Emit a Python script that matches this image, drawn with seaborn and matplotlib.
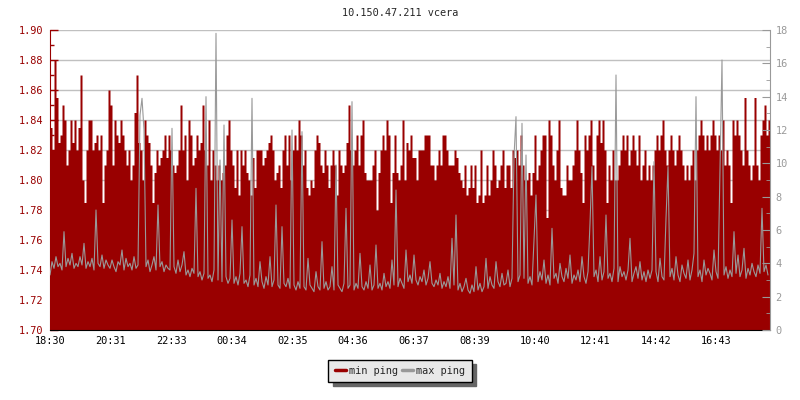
import pandas as pd
import matplotlib.pyplot as plt
from matplotlib.lines import Line2D
from matplotlib.ticker import MultipleLocator
import seaborn as sns

# chart data, one sample every 4 minutes over 24 hours
title = '10.150.47.211 vcera'
start = '2024-05-01 18:30'
step = '4min'
tick_labels = ['18:30', '20:31', '22:33', '00:34', '02:35', '04:36',
               '06:37', '08:39', '10:40', '12:41', '14:42', '16:43']

min_ping = [
    1.835, 1.82, 1.88, 1.855, 1.825, 1.83, 1.85, 1.84, 1.81, 1.82, 1.84, 1.825, 1.84, 1.82, 1.835,
    1.87, 1.80, 1.785, 1.82, 1.84, 1.84, 1.82, 1.825, 1.83, 1.82, 1.83, 1.785, 1.81, 1.82, 1.86,
    1.85, 1.81, 1.84, 1.83, 1.825, 1.84, 1.83, 1.82, 1.81, 1.82, 1.80, 1.81, 1.845, 1.87, 1.825,
    1.82, 1.80, 1.84, 1.83, 1.825, 1.81, 1.785, 1.805, 1.82, 1.81, 1.815, 1.82, 1.83, 1.815, 1.83,
    1.82, 1.81, 1.805, 1.81, 1.82, 1.85, 1.82, 1.83, 1.80, 1.84, 1.83, 1.81, 1.815, 1.83, 1.82,
    1.825, 1.85, 1.82, 1.81, 1.84, 1.80, 1.82, 1.81, 1.80, 1.81, 1.80, 1.805, 1.81, 1.83, 1.84,
    1.82, 1.81, 1.795, 1.82, 1.79, 1.82, 1.81, 1.82, 1.805, 1.80, 1.79, 1.815, 1.795, 1.82, 1.82,
    1.82, 1.81, 1.815, 1.82, 1.825, 1.83, 1.82, 1.80, 1.805, 1.81, 1.795, 1.82, 1.83, 1.81, 1.83,
    1.80, 1.82, 1.83, 1.82, 1.84, 1.83, 1.81, 1.82, 1.795, 1.79, 1.80, 1.795, 1.82, 1.83, 1.825,
    1.81, 1.805, 1.82, 1.81, 1.795, 1.81, 1.82, 1.81, 1.79, 1.82, 1.81, 1.805, 1.81, 1.825, 1.85,
    1.82, 1.81, 1.82, 1.83, 1.81, 1.83, 1.84, 1.805, 1.80, 1.80, 1.80, 1.81, 1.82, 1.78, 1.805,
    1.82, 1.83, 1.82, 1.84, 1.83, 1.785, 1.805, 1.83, 1.805, 1.80, 1.81, 1.84, 1.80, 1.825, 1.82,
    1.83, 1.815, 1.815, 1.80, 1.82, 1.82, 1.82, 1.83, 1.83, 1.83, 1.81, 1.81, 1.80, 1.81, 1.82,
    1.81, 1.83, 1.83, 1.82, 1.81, 1.81, 1.81, 1.82, 1.815, 1.805, 1.80, 1.795, 1.81, 1.79, 1.795,
    1.81, 1.795, 1.81, 1.785, 1.79, 1.82, 1.785, 1.79, 1.81, 1.79, 1.80, 1.82, 1.81, 1.795, 1.80,
    1.81, 1.82, 1.795, 1.81, 1.81, 1.795, 1.82, 1.815, 1.82, 1.81, 1.83, 1.81, 1.80, 1.80, 1.805,
    1.79, 1.805, 1.83, 1.80, 1.81, 1.82, 1.83, 1.83, 1.775, 1.84, 1.83, 1.81, 1.80, 1.82, 1.84,
    1.795, 1.79, 1.79, 1.81, 1.80, 1.80, 1.81, 1.82, 1.84, 1.82, 1.805, 1.785, 1.83, 1.82, 1.83,
    1.84, 1.81, 1.80, 1.83, 1.84, 1.825, 1.84, 1.82, 1.785, 1.81, 1.80, 1.82, 1.80, 1.80, 1.81,
    1.82, 1.83, 1.82, 1.83, 1.81, 1.82, 1.83, 1.82, 1.81, 1.83, 1.80, 1.81, 1.82, 1.80, 1.81,
    1.80, 1.81, 1.82, 1.83, 1.82, 1.83, 1.84, 1.82, 1.81, 1.82, 1.83, 1.82, 1.81, 1.82, 1.83,
    1.82, 1.81, 1.80, 1.81, 1.80, 1.81, 1.82, 1.80, 1.82, 1.83, 1.84, 1.83, 1.82, 1.83, 1.82,
    1.83, 1.84, 1.83, 1.82, 1.83, 1.82, 1.84, 1.81, 1.82, 1.81, 1.785, 1.84, 1.83, 1.84, 1.83,
    1.82, 1.81, 1.855, 1.82, 1.81, 1.80, 1.81, 1.855, 1.81, 1.80, 1.83, 1.84, 1.85, 1.83, 1.84,
]

max_ping = [
    3.3, 4.1, 3.7, 4.4, 3.8, 4.0, 3.6, 5.9, 3.8, 4.3, 3.9, 4.6, 3.7, 4.0, 3.8,
    4.4, 3.9, 5.2, 3.7, 4.1, 3.8, 4.3, 3.6, 7.2, 4.0, 3.8, 4.5, 3.7, 4.2, 3.9,
    3.7, 4.2, 3.8, 3.5, 4.1, 3.9, 4.8, 3.6, 4.3, 3.8, 4.0, 3.6, 4.4, 3.7, 3.9,
    12.9, 13.9, 12.0, 3.8, 4.2, 3.5, 3.9, 4.4, 3.6, 7.5, 3.8, 4.1, 3.5, 3.9, 3.7,
    3.6, 12.1, 3.8, 3.4, 4.2, 3.5, 3.9, 4.7, 3.3, 3.6, 3.2, 3.7, 3.4, 8.5, 3.2,
    3.5, 3.0, 3.4, 14.0, 3.1, 3.3, 2.9, 3.6, 17.8, 3.0, 10.2, 2.9, 12.3, 3.2, 2.8,
    3.1, 6.6, 2.8, 3.2, 2.7, 3.4, 6.2, 2.8, 3.0, 2.6, 3.3, 13.9, 2.7, 3.1, 2.6,
    4.1, 2.9, 2.5, 3.2, 2.7, 4.4, 2.6, 3.0, 7.5, 2.7, 2.5, 6.2, 2.8, 2.6, 3.1,
    2.5, 12.0, 2.7, 2.4, 2.9, 2.5, 11.9, 2.6, 2.4, 4.3, 2.7, 2.5, 2.3, 3.5, 2.6,
    2.4, 5.3, 2.5, 2.9, 2.4, 2.6, 3.8, 2.4, 9.9, 2.7, 2.5, 2.3, 2.8, 7.3, 2.5,
    2.7, 13.7, 2.4, 2.8, 2.5, 4.6, 2.6, 2.4, 2.9, 2.5, 3.9, 2.4, 2.7, 5.1, 2.5,
    2.8, 2.4, 3.4, 2.6, 2.9, 2.5, 4.2, 2.7, 8.4, 2.6, 3.1, 2.8, 2.5, 4.8, 2.9,
    3.3, 2.8, 4.5, 3.0, 2.7, 3.2, 2.9, 3.6, 2.7, 3.1, 4.1, 2.8, 2.6, 3.0, 2.7,
    3.4, 2.5, 2.9, 2.6, 3.2, 2.5, 5.5, 2.7, 6.9, 2.4, 2.8, 2.3, 2.6, 3.1, 2.4,
    2.2, 2.7, 2.3, 3.8, 2.4, 2.8, 2.3, 2.6, 4.3, 2.5, 3.2, 2.7, 2.5, 4.1, 2.9,
    2.6, 3.4, 2.7, 2.8, 3.6, 2.6, 3.1, 10.4, 12.8, 2.9, 3.3, 12.4, 3.1, 10.5, 2.8,
    3.2, 2.7, 5.4, 8.1, 2.9, 3.5, 3.0, 4.2, 2.8, 3.3, 2.7, 6.1, 3.1, 3.4, 2.8,
    4.0, 3.2, 2.9, 3.7, 3.1, 4.5, 2.8, 3.3, 3.0, 3.6, 2.9, 4.4, 3.2, 2.8, 3.5,
    6.4, 9.8, 3.2, 3.6, 2.9, 4.4, 3.0, 3.5, 6.9, 3.1, 3.4, 2.9, 3.7, 15.3, 2.9,
    3.8, 3.2, 3.5, 3.0, 3.6, 5.5, 2.9, 3.4, 3.8, 3.1, 4.1, 3.0, 3.5, 2.9, 3.6,
    3.1, 3.6, 10.1, 3.5, 2.9, 4.3, 3.2, 3.0, 6.7, 9.8, 3.2, 3.7, 3.0, 4.4, 3.3,
    2.9, 3.9, 3.4, 3.1, 4.2, 3.0, 3.6, 4.6, 14.0, 3.2, 3.6, 2.9, 4.2, 3.3, 3.7,
    3.4, 3.0, 4.8, 3.5, 3.1, 9.5, 16.2, 3.3, 3.8, 3.1, 3.6, 3.2, 5.9, 3.4, 4.5,
    3.2, 3.6, 4.9, 3.1, 3.7, 3.3, 4.0, 3.5, 3.2, 3.9, 3.4, 7.3, 3.5, 3.9, 3.3,
]

red = '#990000'
grey = '#999999'

times = pd.date_range(start, periods=len(min_ping), freq=step)
df = pd.DataFrame({'time': times, 'min ping': min_ping, 'max ping': max_ping})
t0 = times[0]
t1 = t0 + pd.Timedelta(hours=24)

# tick positions from the label text (labels before 18:30 belong to the next day)
tick_pos = []
for lab in tick_labels:
    t = pd.Timestamp(t0.strftime('%Y-%m-%d') + ' ' + lab)
    if t < t0:
        t += pd.Timedelta(days=1)
    tick_pos.append(t)

sns.set_style('white')
plt.rcParams['font.family'] = ['DejaVu Sans Mono']
plt.rcParams['font.size'] = 7.4

fig = plt.figure(figsize=(8, 4), dpi=100)
ax = fig.add_axes([50 / 800, 70 / 400, 720 / 800, 300 / 400])

# red area for min ping (step fill, extended to the end of the day)
fill = pd.concat([df, pd.DataFrame({'time': [t1], 'min ping': [min_ping[-1]]})])
ax.fill_between(fill['time'], 1.70, fill['min ping'], step='post', color=red, lw=0)
ax.set_ylim(1.70, 1.90)
ax.set_xlim(t0, t1)
ax.yaxis.set_major_locator(MultipleLocator(0.02))
ax.yaxis.set_minor_locator(MultipleLocator(0.01))
ax.yaxis.set_major_formatter(lambda v, p: f'{v:.2f}')
ax.set_xticks(tick_pos)
ax.set_xticklabels(tick_labels)
ax.grid(axis='y', color='#c0c0c0', lw=1)
ax.set_axisbelow(True)
ax.set_xlabel('')
ax.set_ylabel('')
ax.tick_params(axis='y', which='both', direction='in', colors=red, labelcolor=red, pad=5)
ax.tick_params(axis='y', which='major', length=6, width=1)
ax.tick_params(axis='y', which='minor', length=3, width=1, left=True)
ax.tick_params(axis='x', direction='in', length=5, width=1, colors='black', pad=4)
for s in ['top', 'right']:
    ax.spines[s].set_visible(False)
ax.spines['left'].set_color(red)
ax.spines['bottom'].set_color('black')

# grey line for max ping on the right axis
ax2 = ax.twinx()
sns.lineplot(data=df, x='time', y='max ping', ax=ax2, color=grey, lw=0.8)
ax2.set_ylim(0, 18)
ax2.set_xlim(t0, t1)
ax2.set_ylabel('')
ax2.set_xlabel('')
ax2.yaxis.set_major_locator(MultipleLocator(2))
ax2.yaxis.set_minor_locator(MultipleLocator(1))
ax2.tick_params(axis='y', which='both', direction='in', colors=grey, labelcolor=grey, pad=4)
ax2.tick_params(axis='y', which='major', length=6)
ax2.tick_params(axis='y', which='minor', length=3, right=True)
for s in ['top', 'left', 'bottom']:
    ax2.spines[s].set_visible(False)
ax2.spines['right'].set_color(grey)

fig.text(0.5, 1 - 13 / 400, title, ha='center', va='center')

handles = [Line2D([], [], color=red, lw=2.5), Line2D([], [], color=grey, lw=2.5)]
leg = fig.legend(handles, ['min ping', 'max ping'], loc='center',
                 bbox_to_anchor=(0.5, 1 - 371 / 400), ncol=2, frameon=True,
                 fancybox=False, edgecolor='black', facecolor='#e8e8e8', framealpha=1,
                 shadow={'color': '#666666', 'alpha': 1, 'ox': 3, 'oy': -3},
                 handlelength=1.1, handletextpad=0.3, columnspacing=0.4,
                 borderpad=0.6, fontsize=7.4)
leg.get_frame().set_linewidth(1)

fig.savefig('out.png', dpi=100)
